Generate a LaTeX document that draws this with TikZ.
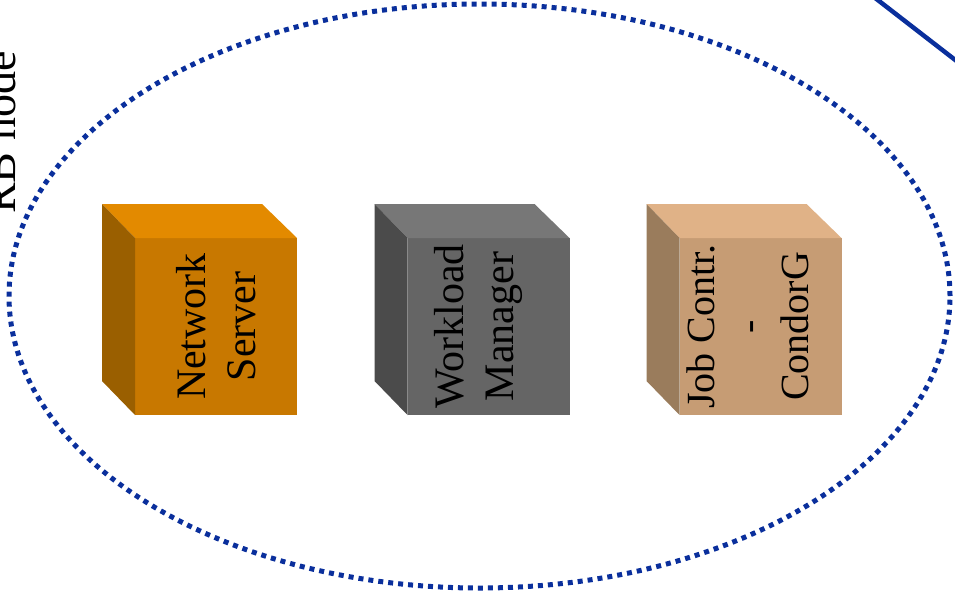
\documentclass[tikz,border=0pt]{standalone}
\usepackage{fontspec}
\setmainfont{Liberation Serif}
\usepackage{xcolor}
\usetikzlibrary{shapes.geometric}

\definecolor{rbblue}{HTML}{0A2F9C}
\definecolor{nsfront}{HTML}{C87800}
\definecolor{nstop}{HTML}{E38A00}
\definecolor{nsside}{HTML}{9A5F00}
\definecolor{wmfront}{HTML}{656565}
\definecolor{wmtop}{HTML}{777777}
\definecolor{wmside}{HTML}{4B4B4B}
\definecolor{jcfront}{HTML}{C69C74}
\definecolor{jctop}{HTML}{E0B287}
\definecolor{jcside}{HTML}{9A7C5C}

\begin{document}
\begin{tikzpicture}
            [
                x=1pt, y=-1pt,
                font=\fontsize{42}{50}\selectfont
            ]
            \tikzset{
                front/.style = {rectangle, minimum width=162pt, minimum height=177pt, inner sep=0pt, outer sep=0pt},
                boxtext/.style = {rotate=90, align=center, inner sep=0pt},
                rbline/.style = {draw=rbblue, line width=4.5pt}
            }
            \clip (0,0) rectangle (955,600);
            % RB node border
            \node[ellipse, draw=rbblue, line width=5pt, dash pattern=on 5pt off 5pt,
                  minimum width=941pt, minimum height=584pt, inner sep=0pt] (rb) at (479.5,296) {};
            \node[rotate=90, anchor=base west, inner sep=0pt, font=\fontsize{46}{50}\selectfont] (rblabel) at (16,214) {RB node};
            \coordinate (l1) at (870,-6);
            \coordinate (l2) at (963,66);
            \draw[rbline] (l1) -- (l2);
            % Network Server
            \node[front, fill=nsfront] (ns) at (216,326.5) {};
            \fill[nstop] (ns.north west) -- ++(-33,-34) -- ++(160,0) -- (ns.north east) -- cycle;
            \fill[nsside] (ns.north west) -- ++(-33,-34) -- ++(0,177) -- (ns.south west) -- cycle;
            \node[boxtext] (nstext) at (ns.center) {Network\\Server};
            % Workload Manager
            \node[front, fill=wmfront] (wm) at (488.5,326.5) {};
            \fill[wmtop] (wm.north west) -- ++(-33,-34) -- ++(160,0) -- (wm.north east) -- cycle;
            \fill[wmside] (wm.north west) -- ++(-33,-34) -- ++(0,177) -- (wm.south west) -- cycle;
            \node[boxtext] (wmtext) at ([xshift=-10pt]wm.center) {Workload\\Manager};
            % Job Controller - CondorG
            \node[front, fill=jcfront] (jc) at (760.5,326.5) {};
            \fill[jctop] (jc.north west) -- ++(-33,-34) -- ++(160,0) -- (jc.north east) -- cycle;
            \fill[jcside] (jc.north west) -- ++(-33,-34) -- ++(0,177) -- (jc.south west) -- cycle;
            \node[boxtext, font=\fontsize{40}{47}\selectfont] (jctext) at ([xshift=-13pt]jc.center) {Job Contr.\\-\\CondorG};
\end{tikzpicture}
\end{document}
